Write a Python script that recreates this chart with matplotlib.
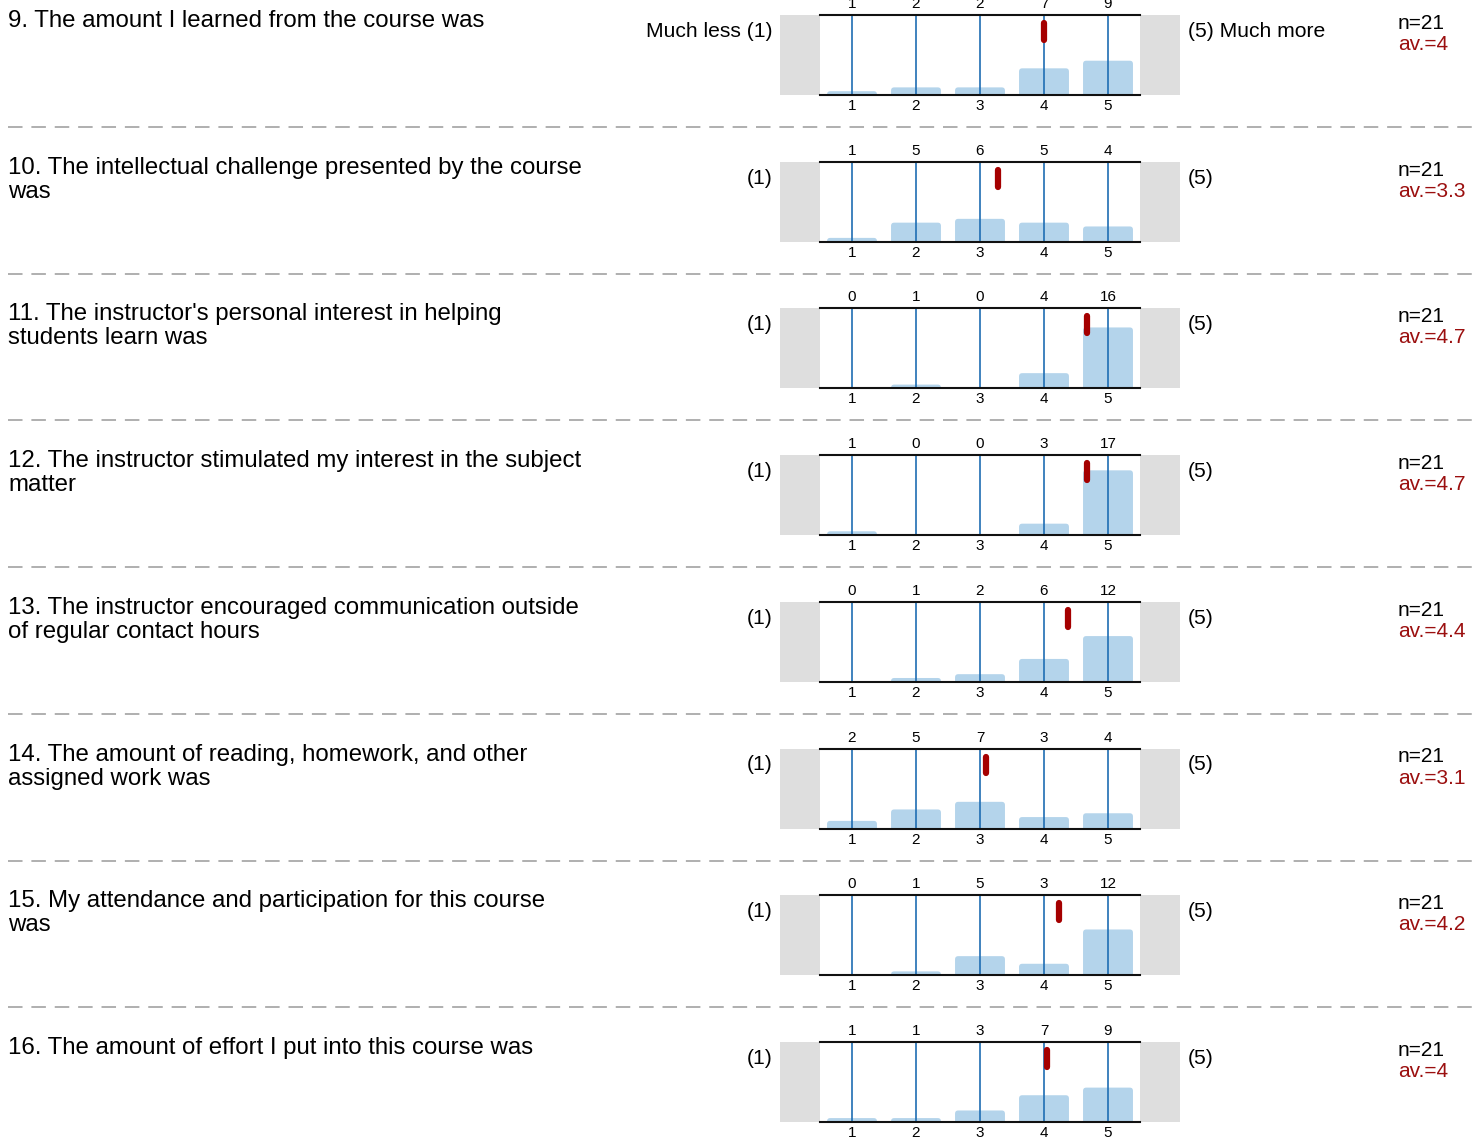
import matplotlib
matplotlib.use('Agg')
from matplotlib import pyplot as plt
from matplotlib.patches import FancyBboxPatch
import numpy as np

plt.rcParams['font.family'] = ['Liberation Sans', 'DejaVu Sans']

questions = [
    "9. The amount I learned from the course was",
    "10. The intellectual challenge presented by the course\nwas",
    "11. The instructor's personal interest in helping\nstudents learn was",
    "12. The instructor stimulated my interest in the subject\nmatter",
    "13. The instructor encouraged communication outside\nof regular contact hours",
    "14. The amount of reading, homework, and other\nassigned work was",
    "15. My attendance and participation for this course\nwas",
    "16. The amount of effort I put into this course was",
]
counts = [
    [1, 2, 2, 7, 9],
    [1, 5, 6, 5, 4],
    [0, 1, 0, 4, 16],
    [1, 0, 0, 3, 17],
    [0, 1, 2, 6, 12],
    [2, 5, 7, 3, 4],
    [0, 1, 5, 3, 12],
    [1, 1, 3, 7, 9],
]
n_resp = [21, 21, 21, 21, 21, 21, 21, 21]
av_labels = ["4", "3.3", "4.7", "4.7", "4.4", "3.1", "4.2", "4"]
left_labels = ["Much less (1)"] + ["(1)"] * 7
right_labels = ["(5) Much more"] + ["(5)"] * 7
scale = [1, 2, 3, 4, 5]

W, H = 1484, 1146
fig = plt.figure(figsize=(W / 100, H / 100), dpi=100)

def fx(px):
    return px / W

def fy(py):
    return 1 - py / H

row_h = 146.7
bar_col = '#b4d4eb'
line_col = '#1f6db3'
red = '#a50000'

for i in range(len(questions)):
    top = 15 + i * row_h
    ax = fig.add_axes([fx(780), fy(top + 80), fx(400), 80 / H])
    ax.set_xlim(-0.125, 6.125)
    ax.set_ylim(0, 1)
    ax.axis('off')

    # grey end boxes
    ax.axvspan(-0.125, 0.5, color='#dedede', lw=0)
    ax.axvspan(5.5, 6.125, color='#dedede', lw=0)

    c = np.array(counts[i])
    frac = c / n_resp[i]
    for k, f in zip(scale, frac):
        if f > 0:
            p = FancyBboxPatch((k - 0.39, -0.1), 0.78, f + 0.1,
                               boxstyle='round,pad=0,rounding_size=0.05',
                               mutation_aspect=0.8, fc=bar_col, ec='none', zorder=1)
            ax.add_patch(p)
    for k in scale:
        ax.plot([k, k], [0, 1], color=line_col, lw=1.2, zorder=2)
    ax.plot([0.5, 5.5], [1, 1], color='#111111', lw=1.5, zorder=3, clip_on=False)
    ax.plot([0.5, 5.5], [0, 0], color='#111111', lw=1.5, zorder=3, clip_on=False)

    mean = (c * np.array(scale)).sum() / c.sum()
    ax.plot([mean, mean], [0.69, 0.9], color=red, lw=4.5,
            solid_capstyle='round', zorder=4)

    for k, v in zip(scale, c):
        ax.text(k, 1 + 11 / 80, str(v), ha='center', va='center', fontsize=11, clip_on=False)
        ax.text(k, -11 / 80, str(k), ha='center', va='center', fontsize=11, clip_on=False)

    # question text, one line at a time
    for j, line in enumerate(questions[i].split('\n')):
        fig.text(fx(8), fy(top + 12 + j * 24), line, ha='left', va='baseline', fontsize=17.3)
    fig.text(fx(772), fy(top + 22), left_labels[i], ha='right', va='baseline', fontsize=15.2)
    fig.text(fx(1188), fy(top + 22), right_labels[i], ha='left', va='baseline', fontsize=15.2)
    fig.text(fx(1398), fy(top + 14), "n=%d" % n_resp[i], ha='left', va='baseline', fontsize=15)
    fig.text(fx(1398), fy(top + 35), "av.=" + av_labels[i], ha='left', va='baseline',
             fontsize=15, color='#9b0f0f')

    if i < len(questions) - 1:
        fig.add_artist(plt.Line2D([fx(8), fx(1472)], [fy(top + 112)] * 2,
                                  color='#9a9a9a', lw=1.1, dashes=(9.5, 5.8)))

fig.savefig('out.png', dpi=100)
